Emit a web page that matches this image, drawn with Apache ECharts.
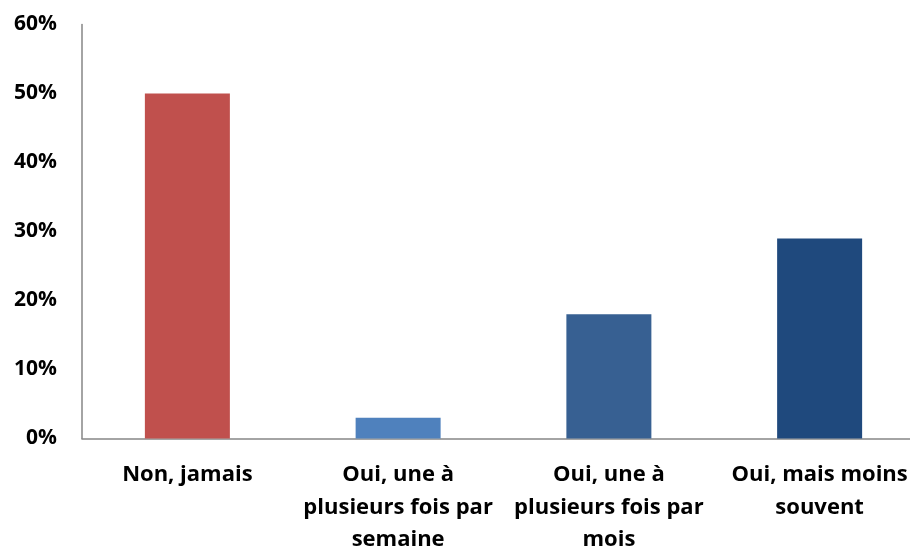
<!DOCTYPE html>
<html>
<head>
<meta charset="utf-8">
<script src="https://cdn.jsdelivr.net/npm/echarts@6/dist/echarts.min.js"></script>
<style>
  html, body { margin: 0; padding: 0; background: #fff; }
  #chart { width: 910px; height: 549px; }
</style>
</head>
<body>
<div id="chart"></div>
<script>
// Answers (categories) and their shares in percent
const categories = [
  'Non, jamais',
  'Oui, une à\nplusieurs fois par\nsemaine',
  'Oui, une à\nplusieurs fois par\nmois',
  'Oui, mais moins\nsouvent'
];
const values = [50, 3, 18, 29];
const barColors = ['#C0504D', '#4F81BD', '#376092', '#1F497D'];
const yTicks = { min: 0, max: 60, interval: 10 };

const chart = echarts.init(document.getElementById('chart'), null, { renderer: 'canvas' });
const fontFamily = '"Open Sans", Lato, sans-serif';

chart.setOption({
  animation: false,
  backgroundColor: '#ffffff',
  grid: {
    left: 82, right: -15, top: 24.5, bottom: 110.5,
    containLabel: false,
    outerBoundsMode: 'none'
  },
  xAxis: {
    type: 'category',
    data: categories,
    axisLine: { show: true, lineStyle: { color: '#868686', width: 1.5 } },
    axisTick: { show: false },
    axisLabel: {
      interval: 0,
      margin: 20,
      color: '#000',
      fontFamily: fontFamily,
      fontWeight: 'bold',
      fontSize: 22,
      lineHeight: 32.5,
      align: 'center'
    }
  },
  yAxis: {
    type: 'value',
    min: yTicks.min,
    max: yTicks.max,
    interval: yTicks.interval,
    axisLine: { show: true, lineStyle: { color: '#868686', width: 1.5 } },
    axisTick: { show: false },
    splitLine: { show: false },
    axisLabel: {
      margin: 25,
      color: '#000',
      fontFamily: fontFamily,
      fontWeight: 'bold',
      fontSize: 21,
      formatter: v => v + '%'
    }
  },
  series: [{
    type: 'bar',
    barWidth: 85,
    data: values.map((v, i) => ({ value: v, itemStyle: { color: barColors[i] } }))
  }]
});
</script>
</body>
</html>
